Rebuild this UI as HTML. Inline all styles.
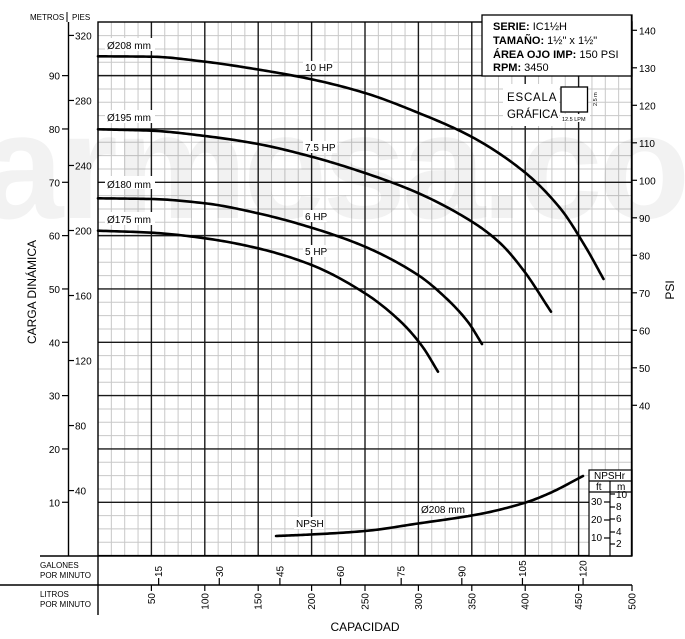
<!DOCTYPE html>
<html><head><meta charset="utf-8"><style>
html,body{margin:0;padding:0;background:#fff}
svg{display:block;font-family:"Liberation Sans",sans-serif}
</style></head><body>
<svg id="s" width="685" height="639" viewBox="0 0 685 639" xmlns="http://www.w3.org/2000/svg">
<g id="grid"></g>
<text x="-20" y="218" font-size="150" font-weight="bold" fill="#000" fill-opacity="0.05" letter-spacing="-4">armesa.com</text>
<g id="curves" fill="none" stroke="#000" stroke-width="2.6" stroke-linecap="round" stroke-linejoin="round"></g>
<g font-size="10" fill="#000">
<g fill="#fff"><rect x="105" y="38" width="50" height="13"/><rect x="105" y="110" width="50" height="13"/><rect x="105" y="176" width="50" height="13"/><rect x="105" y="212" width="50" height="13"/>
<rect x="303" y="61" width="30" height="12"/><rect x="303" y="141" width="34" height="12"/><rect x="303" y="210" width="24" height="12"/><rect x="303" y="245" width="24" height="12"/><rect x="294" y="517" width="30" height="12"/><rect x="419" y="503" width="49" height="12"/>
<rect x="503" y="84" width="56" height="42"/></g>
<text x="107" y="49">Ø208 mm</text><text x="107" y="121">Ø195 mm</text><text x="107" y="188">Ø180 mm</text><text x="107" y="223">Ø175 mm</text>
<text x="305" y="71">10 HP</text><text x="305" y="151">7.5 HP</text><text x="305" y="220">6 HP</text><text x="305" y="255">5 HP</text>
<text x="296" y="527">NPSH</text><text x="421" y="513">Ø208 mm</text>
</g>
<rect x="482" y="15" width="150" height="61" fill="#fff" stroke="#000" stroke-width="1.3"/>
<g font-size="11" fill="#000">
<text x="493" y="30"><tspan font-weight="bold">SERIE:</tspan> IC1½H</text>
<text x="493" y="44"><tspan font-weight="bold">TAMAÑO:</tspan> 1½" x 1½"</text>
<text x="493" y="58"><tspan font-weight="bold">ÁREA OJO IMP:</tspan> 150 PSI</text>
<text x="493" y="71"><tspan font-weight="bold">RPM:</tspan> 3450</text>
</g>
<g fill="#000">
<text x="507" y="101" font-size="11.5" letter-spacing="1.6" textLength="51">ESCALA</text>
<text x="507" y="118" font-size="11.5" textLength="51">GRÁFICA</text>
<rect x="561" y="87" width="26.5" height="25" fill="#fff" stroke="#000" stroke-width="1.3"/>
<rect x="560" y="114" width="30" height="8" fill="#fff"/>
<text x="562" y="121" font-size="5.5">12.5 LPM</text>
<text transform="translate(597,106) rotate(-90)" font-size="5.5">2.5 m</text>
</g>
<g stroke="#000" stroke-width="1.2" fill="none">
<rect x="589" y="470" width="43" height="86" fill="#fff"/>
<line x1="589" y1="481" x2="632" y2="481"/><line x1="589" y1="492" x2="632" y2="492"/>
<line x1="610" y1="481" x2="610" y2="556"/>
<line x1="604" y1="502" x2="610" y2="502"/><line x1="604" y1="520" x2="610" y2="520"/><line x1="604" y1="538" x2="610" y2="538"/>
<line x1="610" y1="494" x2="615" y2="494"/><line x1="610" y1="507" x2="615" y2="507"/><line x1="610" y1="519" x2="615" y2="519"/><line x1="610" y1="532" x2="615" y2="532"/><line x1="610" y1="544" x2="615" y2="544"/>
</g>
<g font-size="10" fill="#000">
<text x="594" y="479">NPSHr</text><text x="596" y="490">ft</text><text x="617" y="490">m</text>
<text x="591" y="505">30</text><text x="591" y="523">20</text><text x="591" y="541">10</text>
<text x="616" y="498">10</text><text x="616" y="510">8</text><text x="616" y="522">6</text><text x="616" y="535">4</text><text x="616" y="547">2</text>
</g>
<g id="axes"></g>
</svg>
<script>
var NS="http://www.w3.org/2000/svg";
function el(p,t,a,txt){var e=document.createElementNS(NS,t);for(var k in a)e.setAttribute(k,a[k]);if(txt!=null)e.textContent=txt;document.getElementById(p).appendChild(e);return e;}
var X0=98,X1=632,Y0=555.6,YT=22;
function xl(l){return X0+l*1.068;}
function ym(m){return Y0-m*5.333;}
for(var i=0;i<=40;i++){var x=xl(i*12.5);if(i%4)el("grid","line",{x1:x,y1:YT,x2:x,y2:Y0,stroke:"#c8c8c8","stroke-width":1});}
for(var j=0;j<=40;j++){var y=ym(j*2.5);if(y<YT)continue;if(j%4)el("grid","line",{x1:X0,y1:y,x2:X1,y2:y,stroke:"#c8c8c8","stroke-width":1});}
for(var i=1;i<10;i++){var x=xl(i*50);el("grid","line",{x1:x,y1:YT,x2:x,y2:Y0,stroke:"#1a1a1a","stroke-width":1.4});}
for(var j=1;j<10;j++){var y=ym(j*10);el("grid","line",{x1:X0,y1:y,x2:X1,y2:y,stroke:"#1a1a1a","stroke-width":1.4});}
el("grid","rect",{x:X0,y:YT,width:X1-X0,height:Y0-YT,fill:"none",stroke:"#000","stroke-width":1.4});
// monotone cubic (Fritsch-Carlson) in x, densely sampled
function mono(p){var n=p.length,d=[],m=[];for(var i=0;i<n-1;i++)d[i]=(p[i+1][1]-p[i][1])/(p[i+1][0]-p[i][0]);
m[0]=d[0];m[n-1]=d[n-2];for(var i=1;i<n-1;i++){m[i]=(d[i-1]*d[i]<=0)?0:2/(1/d[i-1]+1/d[i]);}
var s="";for(var i=0;i<n-1;i++){var x0=p[i][0],x1=p[i+1][0],h=x1-x0,y0=p[i][1],y1=p[i+1][1];
for(var k=0;k<=20;k++){if(i>0&&k==0)continue;var t=k/20,t2=t*t,t3=t2*t;
var y=(2*t3-3*t2+1)*y0+(t3-2*t2+t)*h*m[i]+(-2*t3+3*t2)*y1+(t3-t2)*h*m[i+1];
s+=(s?" L":"M")+(x0+t*h).toFixed(2)+","+y.toFixed(2);}}return s;}
var C=[
[[98,56.3],[151.5,56.7],[205,61.7],[258,69.5],[311.6,79.3],[365,93],[418,112.7],[472,137],[524,171.7],[560,208],[585,246],[603.5,279]],
[[98,129.3],[151.5,130.7],[205,136],[258,144],[311.6,156.7],[365,173],[418,193],[472,221.7],[500,243],[524,271],[551,311.7]],
[[98,198.3],[151.5,199],[205,203.3],[258,213.3],[311.6,227.7],[365,246.7],[418,275],[447,299],[468,322],[482,344]],
[[98,230.7],[151.5,232.7],[205,238.3],[258,248.3],[311.6,265],[365,293.3],[400,321],[422,346],[438,371.7]],
[[276,536],[311,534.5],[365,531],[418,523.5],[480,514],[525,502.7],[550,493],[583,476]]];
C.forEach(function(p){el("curves","path",{d:mono(p)});});
el("axes","line",{x1:68.5,y1:22,x2:68.5,y2:556,stroke:"#000","stroke-width":1.4});
for(var m=10;m<=90;m+=10){var y=ym(m);el("axes","line",{x1:62,y1:y,x2:68.5,y2:y,stroke:"#000","stroke-width":1.2});el("axes","text",{x:60,y:y+4,"font-size":10,"text-anchor":"end"},m);}
for(var f=40;f<=320;f+=40){var y=Y0-f*0.3048*5.333;el("axes","line",{x1:68.5,y1:y,x2:74,y2:y,stroke:"#000","stroke-width":1.2});el("axes","text",{x:75,y:y+4,"font-size":10},f);}
el("axes","text",{x:30,y:20,"font-size":8},"METROS");el("axes","text",{x:72,y:20,"font-size":8},"PIES");
el("axes","line",{x1:67,y1:12,x2:67,y2:22,stroke:"#000","stroke-width":1});
el("axes","text",{transform:"translate(36,292) rotate(-90)","font-size":12,"text-anchor":"middle"},"CARGA DINÁMICA");
el("axes","line",{x1:631.5,y1:15,x2:631.5,y2:556,stroke:"#000","stroke-width":1.4});
for(var p=40;p<=140;p+=10){var y=555.3-p*3.75;el("axes","line",{x1:632,y1:y,x2:637,y2:y,stroke:"#000","stroke-width":1.2});el("axes","text",{x:639,y:y+4,"font-size":10},p);}
el("axes","text",{transform:"translate(674,290) rotate(-90)","font-size":12,"text-anchor":"middle"},"PSI");
el("axes","line",{x1:40,y1:556,x2:632,y2:556,stroke:"#000","stroke-width":1.4});
el("axes","line",{x1:0,y1:585,x2:632,y2:585,stroke:"#000","stroke-width":1.4});
el("axes","line",{x1:98,y1:556,x2:98,y2:615,stroke:"#000","stroke-width":1.4});
el("axes","text",{x:40,y:568,"font-size":8},"GALONES");el("axes","text",{x:40,y:578,"font-size":8},"POR MINUTO");
el("axes","text",{x:40,y:597,"font-size":8},"LITROS");el("axes","text",{x:40,y:607,"font-size":8},"POR MINUTO");
for(var g=15;g<=120;g+=15){var x=xl(g*3.785);el("axes","line",{x1:x,y1:578,x2:x,y2:585,stroke:"#000","stroke-width":1.2});el("axes","text",{transform:"translate("+(x+3.5)+",577) rotate(-90)","font-size":10},g);}
for(var l=50;l<=500;l+=50){var x=xl(l);el("axes","line",{x1:x,y1:585,x2:x,y2:591,stroke:"#000","stroke-width":1.2});el("axes","text",{transform:"translate("+(x+3.5)+",593) rotate(-90)","font-size":10,"text-anchor":"end"},l);}
el("axes","text",{x:365,y:631,"font-size":12,"text-anchor":"middle"},"CAPACIDAD");
</script>
</body></html>
